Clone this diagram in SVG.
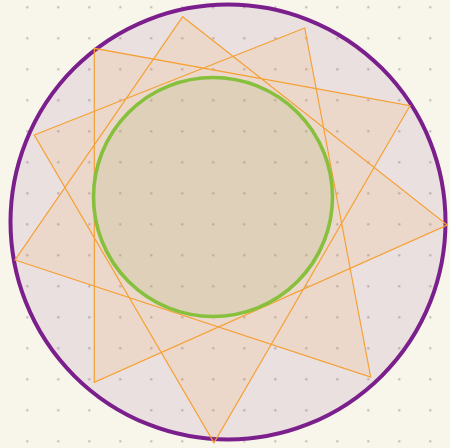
<svg xmlns="http://www.w3.org/2000/svg" width="450" height="448" viewBox="0 0 450 448">
  <defs>
    <pattern id="dots" x="0" y="0" width="31" height="31" patternUnits="userSpaceOnUse" patternTransform="translate(27.3 7.3)">
      <circle cx="0" cy="0" r="1.3" fill="#c4bfbb"/>
      <circle cx="31" cy="0" r="1.3" fill="#c4bfbb"/>
      <circle cx="0" cy="31" r="1.3" fill="#c4bfbb"/>
      <circle cx="31" cy="31" r="1.3" fill="#c4bfbb"/>
    </pattern>
    <style>
      .outer { fill: rgba(123,31,140,0.1); stroke: #7b1f8c; stroke-width: 4; }
      .star { fill: rgba(245,160,51,0.13); stroke: #f5a033; stroke-width: 1.2; stroke-linejoin: miter; }
      .inner { fill: rgba(156,176,85,0.15); stroke: #86c03c; stroke-width: 3.6; }
    </style>
  </defs>
  <rect x="0" y="0" width="450" height="448" fill="#f8f6ea"/>
  <rect x="0" y="0" width="450" height="448" fill="url(#dots)"/>
  <g id="outer-circle">
    <circle class="outer" cx="228" cy="222" r="217.5"/>
  </g>
  <g id="star">
    <polygon class="star" points="182.7,16.7 447.3,225 94.3,382.3 94.3,48.3 410,105.7 214,442.7 34.3,135 304.7,28 370.7,377 15,260"/>
  </g>
  <g id="inner-circle">
    <circle class="inner" cx="213" cy="197" r="119.5"/>
  </g>
</svg>
